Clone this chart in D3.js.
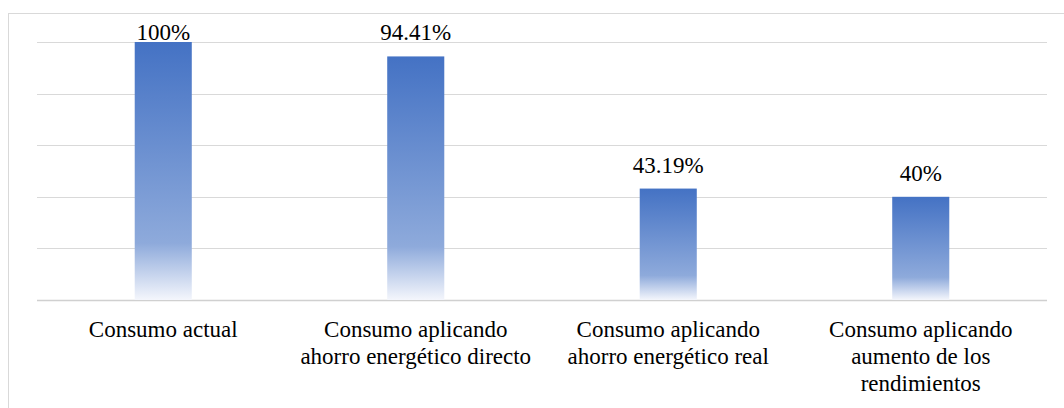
<!DOCTYPE html>
<meta charset="utf-8">
<html>
<head>
<script src="https://d3js.org/d3.v7.min.js"></script>
</head>
<body style="margin:0">

<script>
var categories = [
    ["Consumo actual"],
    ["Consumo aplicando", "ahorro energético directo"],
    ["Consumo aplicando", "ahorro energético real"],
    ["Consumo aplicando", "aumento de los", "rendimientos"]
]
var values = [100, 94.41, 43.19, 40]
var valueLabels = ["100%", "94.41%", "43.19%", "40%"]
var yTicks = [0, 20, 40, 60, 80, 100]

var svgWidth = 1064
var svgHeight = 408
var margin = {top: 42, right: 17, bottom: 108, left: 37}
var width = svgWidth - margin.left - margin.right
var height = svgHeight - margin.top - margin.bottom
var serif = "'Liberation Serif', 'Tinos', 'FreeSerif'"

var svg = d3.select("body")
     .append("svg")
     .attr("width", svgWidth)
     .attr("height", svgHeight)
     .attr("font-family", serif)

// chart frame
svg.append("rect")
   .attr("x", 8.5).attr("y", 13.5)
   .attr("width", svgWidth).attr("height", svgHeight)
   .attr("fill", "none")
   .attr("stroke", "#d9d9d9")

var grad = svg.append("defs").append("linearGradient")
    .attr("id", "barFill")
    .attr("x1", 0).attr("y1", 0).attr("x2", 0).attr("y2", 1)
grad.append("stop").attr("offset", "0%").attr("stop-color", "#4472c4")
grad.append("stop").attr("offset", "78%").attr("stop-color", "#8eaadb")
grad.append("stop").attr("offset", "100%").attr("stop-color", "#f4f6fc")

var x = d3.scaleBand().domain(d3.range(categories.length)).range([0, width]).paddingInner(0.774).paddingOuter(0.387)
var y = d3.scaleLinear().domain([0, 100]).range([height, 0])

var g = svg.append("g")
  .attr("transform", "translate(" + margin.left + "," + margin.top + ")")

g.selectAll(".grid")
  .data(yTicks)
  .enter().append("line")
  .attr("class", "grid")
  .attr("x1", 0).attr("x2", width)
  .attr("y1", d => Math.round(y(d)) + 0.5)
  .attr("y2", d => Math.round(y(d)) + 0.5)
  .attr("stroke", d => d == 0 ? "#d0d0d0" : "#d9d9d9")
  .attr("stroke-width", d => d == 0 ? 1.5 : 1)

g.selectAll(".bar")
  .data(values)
  .enter().append("rect")
  .attr("class", "bar")
  .attr("x", (d, i) => x(i))
  .attr("width", x.bandwidth())
  .attr("y", d => y(d))
  .attr("height", d => height - y(d))
  .attr("fill", "url(#barFill)")

// value labels sit above the bar, but never above the plot top
g.selectAll(".vlabel")
  .data(values)
  .enter().append("text")
  .attr("class", "vlabel")
  .attr("x", (d, i) => x(i) + x.bandwidth() / 2)
  .attr("y", d => Math.max(y(d) - 16, -2))
  .attr("text-anchor", "middle")
  .attr("font-family", serif)
  .attr("font-size", "23px")
  .attr("fill", "#000")
  .text((d, i) => valueLabels[i])

var xl = g.selectAll(".xlabel")
  .data(categories)
  .enter().append("text")
  .attr("class", "xlabel")
  .attr("x", (d, i) => x(i) + x.bandwidth() / 2)
  .attr("y", height + 37)
  .attr("text-anchor", "middle")
  .attr("font-family", serif)
  .attr("font-size", "23px")
  .attr("fill", "#000")

xl.selectAll("tspan")
  .data(d => d)
  .enter().append("tspan")
  .attr("x", function(){ return d3.select(this.parentNode).attr("x") })
  .attr("dy", (d, i) => i == 0 ? 0 : 27)
  .text(d => d)
</script>
</body>
</html>
